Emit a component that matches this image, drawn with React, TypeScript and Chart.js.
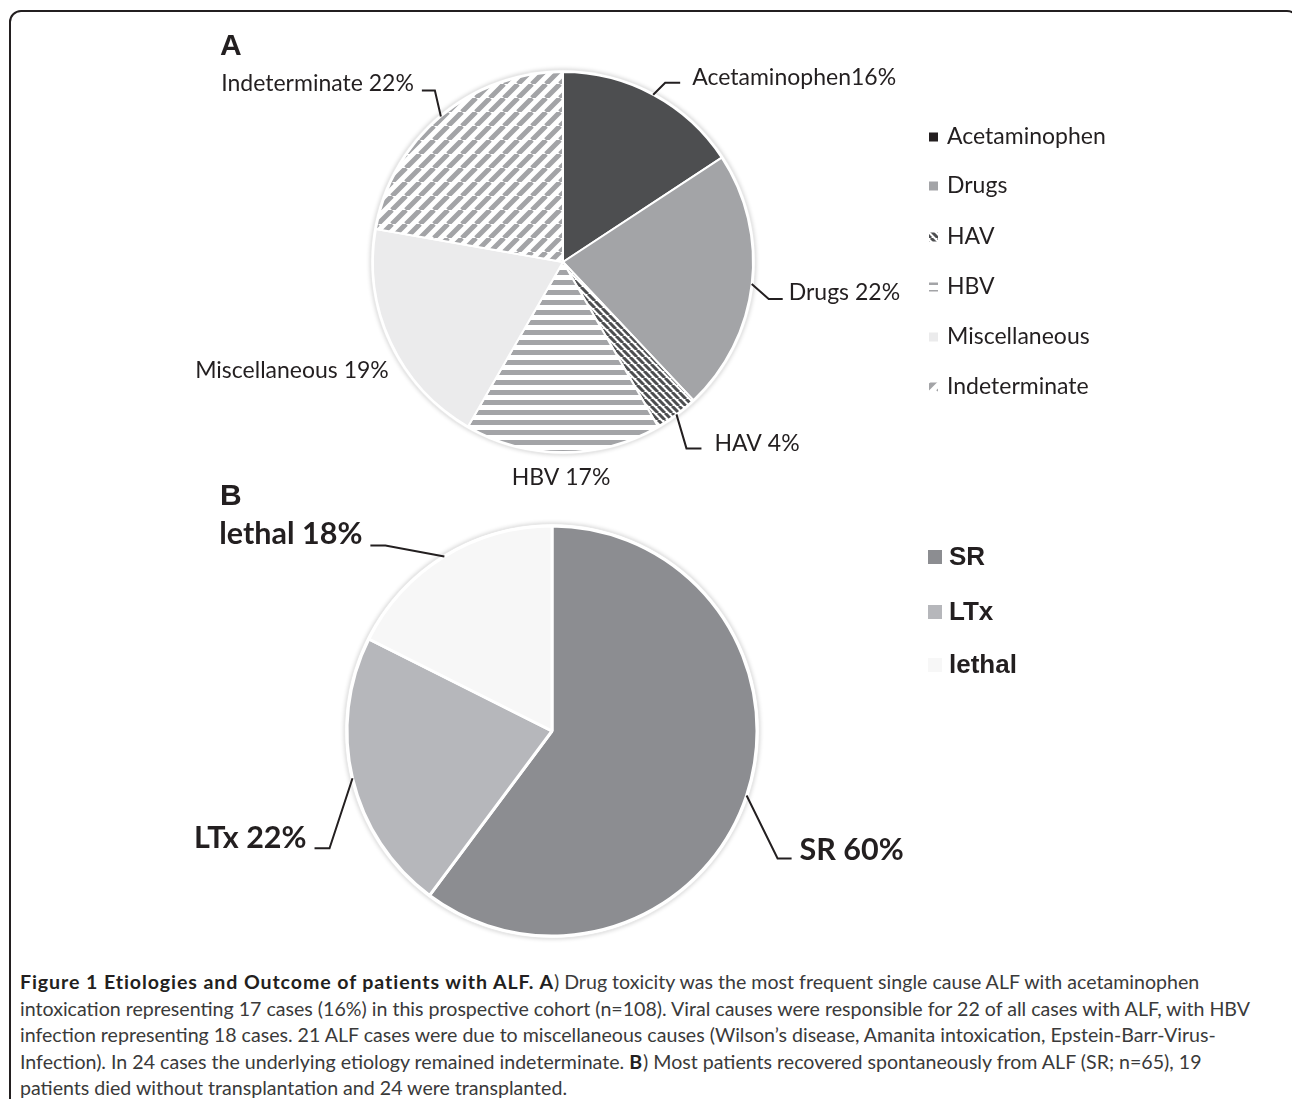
import React, { useEffect, useRef } from "react";
import { Chart, registerables } from "chart.js";

Chart.register(...registerables);

// ---------- DATA ----------
const etiologyLabels = ["Acetaminophen", "Drugs", "HAV", "HBV", "Miscellaneous", "Indeterminate"];
const etiologyCases = [17, 24, 4, 18, 21, 24];
const etiologyPercentLabels = ["Acetaminophen16%", "Drugs 22%", "HAV 4%", "HBV 17%", "Miscellaneous 19%", "Indeterminate 22%"];

const outcomeLabels = ["SR", "LTx", "lethal"];
const outcomeCases = [65, 24, 19];
const outcomePercentLabels = ["SR 60%", "LTx 22%", "lethal 18%"];

const captionLines = [
  [{ b: true, t: "Figure 1 Etiologies and Outcome of patients with ALF. A" }, { b: false, t: ") Drug toxicity was the most frequent single cause ALF with acetaminophen" }],
  [{ b: false, t: "intoxication representing 17 cases (16%) in this prospective cohort (n=108). Viral causes were responsible for 22 of all cases with ALF, with HBV" }],
  [{ b: false, t: "infection representing 18 cases. 21 ALF cases were due to miscellaneous causes (Wilson\u2019s disease, Amanita intoxication, Epstein-Barr-Virus-" }],
  [{ b: false, t: "Infection). In 24 cases the underlying etiology remained indeterminate. " }, { b: true, t: "B" }, { b: false, t: ") Most patients recovered spontaneously from ALF (SR; n=65), 19" }],
  [{ b: false, t: "patients died without transplantation and 24 were transplanted." }],
];

// ---------- STYLE / LAYOUT ----------
const INK = "#231f20";
const W = 1292;

type LabelLayout = {
  line: boolean;
  elbow?: [number, number];
  end?: [number, number];
  text: [number, number];
  align: CanvasTextAlign;
};

const layoutA: LabelLayout[] = [
  { line: true, elbow: [12, -12], end: [27, -12], text: [12, -5], align: "left" },
  { line: true, elbow: [17, 15], end: [31, 15], text: [6, -6], align: "left" },
  { line: true, elbow: [10, 34], end: [25, 34], text: [13, -5], align: "left" },
  { line: false, text: [-2, 26], align: "center" },
  { line: false, text: [-2, 28], align: "right" },
  { line: true, elbow: [-6, -26], end: [-19, -26], text: [-8, -7], align: "right" },
];

const layoutB: LabelLayout[] = [
  { line: true, elbow: [31, 63], end: [45, 63], text: [8, -8], align: "left" },
  { line: true, elbow: [-23, 70], end: [-38, 70], text: [-8, -10], align: "right" },
  { line: true, elbow: [-59, -11], end: [-74, -11], text: [-8, -11], align: "right" },
];

function makePattern(ctx: CanvasRenderingContext2D, kind: "up" | "down" | "horiz", color: string, size: number, lw: number) {
  const c = document.createElement("canvas");
  c.width = size;
  c.height = size;
  const g = c.getContext("2d")!;
  g.fillStyle = "#ffffff";
  g.fillRect(0, 0, size, size);
  g.strokeStyle = color;
  g.fillStyle = color;
  g.lineWidth = lw;
  if (kind === "horiz") {
    g.fillRect(0, 0, size, lw);
  } else {
    g.beginPath();
    for (const o of [-size, 0, size]) {
      if (kind === "up") {
        g.moveTo(o, size);
        g.lineTo(o + size, 0);
      } else {
        g.moveTo(o, 0);
        g.lineTo(o + size, size);
      }
    }
    g.stroke();
  }
  return ctx.createPattern(c, "repeat")!;
}

const pieBackdrop = {
  id: "pieBackdrop",
  beforeDatasetsDraw(chart: any) {
    const arc = chart.getDatasetMeta(0).data[0];
    if (!arc) return;
    const { x, y, outerRadius } = arc.getProps(["x", "y", "outerRadius"], true);
    const ctx = chart.ctx;
    ctx.save();
    ctx.shadowColor = "rgba(0,0,0,0.18)";
    ctx.shadowBlur = 4;
    ctx.fillStyle = "#e8e8e8";
    ctx.beginPath();
    ctx.arc(x, y, outerRadius + 3, 0, Math.PI * 2);
    ctx.fill();
    ctx.restore();
    ctx.save();
    ctx.fillStyle = "#ffffff";
    ctx.beginPath();
    ctx.arc(x, y, outerRadius + 1.8, 0, Math.PI * 2);
    ctx.fill();
    ctx.restore();
  },
};

const leaderLabels = {
  id: "leaderLabels",
  afterDatasetsDraw(chart: any, _args: any, opts: any) {
    const ctx = chart.ctx;
    const meta = chart.getDatasetMeta(0);
    ctx.save();
    ctx.font = opts.font;
    ctx.fillStyle = INK;
    ctx.strokeStyle = INK;
    ctx.lineWidth = 2;
    ctx.textBaseline = "middle";
    meta.data.forEach((arc: any, i: number) => {
      const { x, y, startAngle, endAngle, outerRadius } = arc.getProps(["x", "y", "startAngle", "endAngle", "outerRadius"], true);
      const mid = (startAngle + endAngle) / 2;
      const ax = x + Math.cos(mid) * outerRadius;
      const ay = y + Math.sin(mid) * outerRadius;
      const L: LabelLayout = opts.layout[i];
      let tx = ax, ty = ay;
      if (L.line && L.elbow && L.end) {
        const ex = ax + L.elbow[0], ey = ay + L.elbow[1];
        const nx = ax + L.end[0], ny = ay + L.end[1];
        ctx.beginPath();
        ctx.moveTo(ax, ay);
        ctx.lineTo(ex, ey);
        ctx.lineTo(nx, ny);
        ctx.stroke();
        tx = nx;
        ty = ny;
      }
      ctx.textAlign = L.align;
      ctx.fillText(opts.texts[i], tx + L.text[0], ty + L.text[1]);
    });
    ctx.restore();
  },
};

const sideLegend = {
  id: "sideLegend",
  afterDraw(chart: any, _args: any, opts: any) {
    const ctx = chart.ctx;
    ctx.save();
    ctx.font = opts.font;
    ctx.fillStyle = INK;
    ctx.textBaseline = "middle";
    ctx.textAlign = "left";
    const labels: string[] = chart.data.labels;
    labels.forEach((lab, i) => {
      const cy = opts.rows[i];
      ctx.fillStyle = opts.markers[i];
      ctx.fillRect(opts.markerX, cy - opts.size / 2, opts.size, opts.size);
      ctx.fillStyle = INK;
      ctx.fillText(lab, opts.textX, cy + (opts.textDy || 0));
    });
    ctx.restore();
  },
};

function PieA() {
  const ref = useRef<HTMLCanvasElement>(null);
  useEffect(() => {
    const canvas = ref.current!;
    const ctx = canvas.getContext("2d")!;
    const H = 495, cx = 563, cy = 262, r = 190;
    const hav = makePattern(ctx, "down", "#4d4e50", 7, 3);
    const hbv = makePattern(ctx, "horiz", "#a3a4a7", 10, 5);
    const ind = makePattern(ctx, "up", "#a3a4a7", 14, 5);
    const fills: any[] = ["#4d4e50", "#a3a4a7", hav, hbv, "#ebebec", ind];
    const markers: any[] = ["#231f20", "#a3a4a7", hav, hbv, "#ebebec", ind];
    const chart = new Chart(canvas, {
      type: "pie",
      data: {
        labels: etiologyLabels,
        datasets: [
          {
            data: etiologyCases,
            backgroundColor: fills,
            borderColor: "#ffffff",
            borderWidth: 2,
            radius: r,
          } as any,
        ],
      },
      options: {
        responsive: false,
        animation: false,
        events: [],
        layout: { padding: { left: cx - r, right: W - cx - r, top: cy - r, bottom: H - cy - r } },
        plugins: {
          legend: { display: false },
          tooltip: { enabled: false },
          leaderLabels: { texts: etiologyPercentLabels, layout: layoutA, font: "23px Lato" },
          sideLegend: {
            font: "23px Lato",
            rows: [137, 186, 237, 287, 337, 387],
            markers,
            markerX: 929,
            size: 9,
            textX: 947,
          },
        } as any,
      },
      plugins: [pieBackdrop, leaderLabels, sideLegend],
    });
    return () => chart.destroy();
  }, []);
  return <canvas ref={ref} width={W} height={495} style={{ position: "absolute", left: 0, top: 0 }} />;
}

function PieB() {
  const ref = useRef<HTMLCanvasElement>(null);
  useEffect(() => {
    const canvas = ref.current!;
    const H = 470, cx = 552, cy = 236, r = 205;
    const fills = ["#8c8d91", "#b6b7bb", "#f7f7f7"];
    const chart = new Chart(canvas, {
      type: "pie",
      data: {
        labels: outcomeLabels,
        datasets: [
          {
            data: outcomeCases,
            backgroundColor: fills,
            borderColor: "#ffffff",
            borderWidth: 3,
            radius: r,
          } as any,
        ],
      },
      options: {
        responsive: false,
        animation: false,
        events: [],
        layout: { padding: { left: cx - r, right: W - cx - r, top: cy - r, bottom: H - cy - r } },
        plugins: {
          legend: { display: false },
          tooltip: { enabled: false },
          leaderLabels: { texts: outcomePercentLabels, layout: layoutB, font: "bold 30.5px Lato" },
          sideLegend: {
            font: "bold 26px 'Liberation Sans'",
            rows: [62, 117, 170],
            markers: fills,
            markerX: 928,
            size: 14,
            textX: 949,
            textDy: 1,
          },
        } as any,
      },
      plugins: [pieBackdrop, leaderLabels, sideLegend],
    });
    return () => chart.destroy();
  }, []);
  return <canvas ref={ref} width={W} height={470} style={{ position: "absolute", left: 0, top: 495 }} />;
}

export default function App() {
  useEffect(() => {
    document.body.style.margin = "0";
    document.documentElement.style.overflow = "hidden";
    document.body.style.overflow = "hidden";
  }, []);
  const panelLetter: React.CSSProperties = {
    position: "absolute",
    fontFamily: "'Liberation Sans', Arial, sans-serif",
    fontWeight: "bold",
    fontSize: 30,
    color: INK,
    lineHeight: "30px",
  };
  return (
    <div style={{ position: "relative", width: W, height: 1099, overflow: "hidden", background: "#fff" }}>
      <div
        style={{
          position: "absolute",
          left: 9,
          top: 10,
          width: 1290,
          height: 1300,
          border: `2.5px solid ${INK}`,
          borderRadius: 12,
          boxSizing: "border-box",
        }}
      />
      <PieA />
      <PieB />
      <div style={{ ...panelLetter, left: 220, top: 30 }}>A</div>
      <div style={{ ...panelLetter, left: 220, top: 480 }}>B</div>
      <div
        style={{
          position: "absolute",
          left: 20,
          top: 969,
          fontFamily: "Lato, 'Open Sans', sans-serif",
          fontSize: 19.6,
          lineHeight: "26.5px",
          color: "#3a3a3a",
          whiteSpace: "nowrap",
        }}
      >
        {captionLines.map((line, i) => (
          <div key={i}>
            {line.map((seg, j) => (
              <span key={j} style={seg.b ? { fontWeight: "bold", color: INK, letterSpacing: "0.9px" } : undefined}>
                {seg.t}
              </span>
            ))}
          </div>
        ))}
      </div>
    </div>
  );
}
